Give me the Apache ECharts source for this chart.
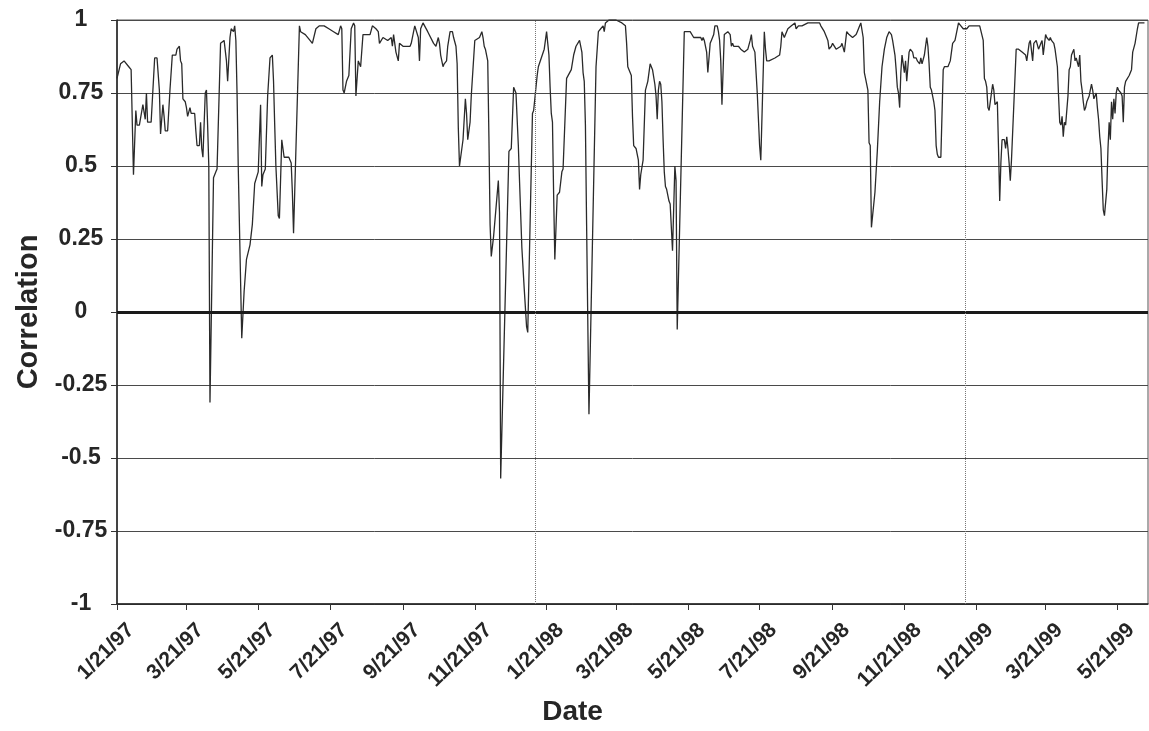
<!DOCTYPE html>
<html>
<head>
<meta charset="utf-8">
<script src="https://cdn.jsdelivr.net/npm/echarts@6/dist/echarts.min.js"></script>
<style>
  html, body { margin: 0; padding: 0; background: #ffffff; }
  #chart { width: 1149px; height: 731px; }
</style>
</head>
<body>
<div id="chart"></div>
<script>
// Rolling correlation, January 1997 to June 1999.
const startDate = '1/21/97';
const endDate = '6/16/99';
const tickLabels = ['1/21/97', '3/21/97', '5/21/97', '7/21/97', '9/21/97', '11/21/97',
  '1/21/98', '3/21/98', '5/21/98', '7/21/98', '9/21/98', '11/21/98',
  '1/21/99', '3/21/99', '5/21/99'];
const markerDates = ['1/11/98', '1/12/99'];
const yTicks = [-1, -0.75, -0.5, -0.25, 0, 0.25, 0.5, 0.75, 1];

// Days elapsed since the start date
const dayOffsets = [
  0, 3, 6, 10, 12, 14, 16, 17, 19, 22, 24, 25, 26, 29, 32, 34, 36, 37, 39, 40,
  41, 43, 45, 47, 50, 51, 53, 54, 55, 56, 58, 59, 60, 62, 63, 66, 67, 68, 70, 71,
  72, 73, 75, 76, 77, 78, 79, 82, 84, 85, 88, 91, 93, 94, 96, 97, 99, 100, 101, 102,
  103, 106, 108, 110, 113, 115, 117, 118, 120, 122, 123, 124, 126, 128, 130, 132, 133, 134, 135, 137,
  138, 140, 142, 146, 148, 149, 150, 151, 155, 156, 160, 164, 166, 169, 172, 176, 180, 184, 188, 190,
  191, 192, 193, 195, 197, 199, 201, 202, 203, 205, 207, 209, 211, 215, 217,
  220, 222, 223, 226, 230, 233, 234, 235, 237, 239, 240, 243, 249, 250, 252, 253, 256, 257, 258, 260,
  264, 269, 271, 273, 274, 275, 277, 278, 280, 281, 283, 285, 286, 288, 289, 290, 291, 292, 294, 296,
  297, 298, 300, 301, 304, 305, 308, 310, 311, 312, 313, 315, 316, 317, 318, 320, 321, 324, 325, 326,
  333, 335, 337, 339, 341, 342, 344, 346, 348, 349, 353, 354, 357, 358, 359, 363, 365, 366, 367, 368,
  369, 370, 371, 372, 374, 376, 378, 379, 382, 383, 386, 388, 390, 393, 394, 395, 396, 397, 398, 399,
  401, 407, 409, 411, 413, 414, 415, 418, 424, 429, 432, 433, 434, 437,
  438, 439, 441, 443, 444, 445, 447, 449, 451, 453, 454, 455, 457, 458, 459, 460, 461, 462, 463, 464,
  465, 466, 467, 469, 470, 472, 474, 475, 476, 482, 484, 487, 490, 493, 496, 497, 498, 499, 501, 502,
  504, 505, 507, 508, 510, 511, 512, 513, 514, 516, 517, 519, 521, 522, 523, 524, 528, 530, 533, 536,
  538, 539, 540, 542, 544, 546, 547, 550, 551, 552, 554, 559, 563, 564, 565, 567, 568, 570, 573, 576,
  577, 579, 582, 587, 593, 597, 598, 601, 603, 604, 605, 607, 608, 609, 611, 615, 616, 618, 620, 621,
  622, 625, 628, 629, 631, 632, 634, 635, 636, 637, 638, 639, 640, 641, 642, 644, 646, 648, 650, 652,
  654, 656,
  658, 659, 661, 662, 663, 664, 665, 666, 667, 668, 669, 670, 671, 673, 674, 676, 677, 679, 680, 682,
  683, 684, 686, 688, 689, 690, 691, 692, 694, 695, 696, 697, 698, 700, 702, 703, 706, 707, 708, 710,
  712, 713, 715, 716, 717, 719, 722, 724, 727, 730, 733, 734, 736, 737, 738, 739, 740, 741, 743, 744,
  745, 746, 748, 749, 750, 751, 752, 754, 755, 756, 757, 758, 759, 760, 761, 764, 765, 766, 769, 772,
  773, 775, 776, 778, 779, 781, 782, 783, 785, 786, 787, 789, 790, 792, 793, 794, 796, 797, 799, 800,
  801, 802, 803, 804, 805, 806, 808, 809, 810, 811, 813, 814, 815, 816, 817, 818, 819, 820, 821, 822,
  823, 824, 826, 828, 829, 830, 832, 833, 834, 835, 836, 837, 838, 839, 841, 842, 843, 844, 845, 846,
  847, 848, 849, 850, 851, 853, 854, 855, 856, 857, 858, 860, 862, 863, 865, 867, 868, 869, 871, 873
];

const correlation = [
  0.80, 0.85, 0.86, 0.84, 0.83, 0.47, 0.69, 0.64, 0.64, 0.71, 0.66, 0.75, 0.65, 0.65, 0.87, 0.87, 0.76, 0.61, 0.71, 0.67,
  0.62, 0.62, 0.76, 0.88, 0.88, 0.90, 0.91, 0.86, 0.85, 0.73, 0.72, 0.70, 0.67, 0.70, 0.68, 0.68, 0.62, 0.57, 0.57, 0.65,
  0.56, 0.53, 0.75, 0.76, 0.64, 0.50, -0.31, 0.46, 0.48, 0.49, 0.92, 0.93, 0.86, 0.79, 0.94, 0.97, 0.96, 0.98, 0.93, 0.75,
  0.50, -0.09, 0.07, 0.18, 0.23, 0.30, 0.44, 0.44, 0.48, 0.71, 0.43, 0.47, 0.49, 0.74, 0.87, 0.88, 0.79, 0.64, 0.50, 0.33,
  0.32, 0.59, 0.53, 0.53, 0.51, 0.41, 0.27, 0.41, 0.98, 0.96, 0.95, 0.93, 0.92, 0.97, 0.98, 0.98, 0.97, 0.96, 0.95, 0.98,
  0.97, 0.76, 0.75, 0.79, 0.81, 0.97, 0.99, 0.98, 0.74, 0.86, 0.84, 0.95, 0.95, 0.95, 0.98,
  0.97, 0.96, 0.92, 0.94, 0.93, 0.94, 0.91, 0.95, 0.89, 0.86, 0.92, 0.91, 0.91, 0.92, 0.96, 0.98, 0.94, 0.86, 0.97, 0.99,
  0.96, 0.92, 0.91, 0.94, 0.92, 0.88, 0.84, 0.85, 0.86, 0.91, 0.96, 0.96, 0.94, 0.91, 0.85, 0.63, 0.50, 0.50, 0.59, 0.73,
  0.68, 0.59, 0.65, 0.74, 0.93, 0.93, 0.94, 0.96, 0.94, 0.91, 0.90, 0.86, 0.60, 0.30, 0.19, 0.26, 0.26, 0.45, 0.34, -0.57,
  0.55, 0.56, 0.77, 0.75, 0.57, 0.45, 0.22, 0.08, -0.05, -0.07, 0.68, 0.69, 0.81, 0.84, 0.84, 0.90, 0.96, 0.92, 0.88, 0.77,
  0.68, 0.65, 0.40, 0.18, 0.40, 0.41, 0.48, 0.49, 0.80, 0.80, 0.83, 0.88, 0.91, 0.93, 0.93, 0.89, 0.82, 0.79, 0.64, 0.30,
  -0.35, 0.84, 0.96, 0.97, 0.98, 0.96, 0.99, 1.00, 1.00, 0.99, 0.98, 0.92, 0.84, 0.81,
  0.67, 0.57, 0.56, 0.52, 0.42, 0.47, 0.52, 0.76, 0.79, 0.85, 0.84, 0.83, 0.78, 0.74, 0.66, 0.76, 0.79, 0.78, 0.72, 0.59,
  0.48, 0.43, 0.42, 0.38, 0.37, 0.21, 0.50, 0.45, -0.06, 0.96, 0.96, 0.96, 0.94, 0.94, 0.94, 0.93, 0.94, 0.93, 0.89, 0.82,
  0.92, 0.93, 0.95, 0.98, 0.98, 0.96, 0.93, 0.86, 0.71, 0.95, 0.95, 0.96, 0.95, 0.91, 0.92, 0.91, 0.91, 0.90, 0.89, 0.90,
  0.93, 0.95, 0.91, 0.89, 0.75, 0.57, 0.52, 0.96, 0.90, 0.86, 0.86, 0.87, 0.88, 0.91, 0.96, 0.94, 0.95, 0.97, 0.98, 0.99,
  0.97, 0.98, 0.98, 0.99, 0.99, 0.99, 0.98, 0.96, 0.94, 0.93, 0.90, 0.91, 0.92, 0.92, 0.90, 0.91, 0.92, 0.89, 0.96, 0.96,
  0.95, 0.94, 0.95, 0.96, 0.98, 0.99, 0.94, 0.82, 0.80, 0.80, 0.76, 0.58, 0.57, 0.29, 0.29, 0.41, 0.55, 0.72, 0.84, 0.90,
  0.94, 0.96,
  0.95, 0.93, 0.88, 0.83, 0.77, 0.75, 0.70, 0.82, 0.88, 0.85, 0.82, 0.86, 0.79, 0.89, 0.90, 0.89, 0.87, 0.87, 0.86, 0.85,
  0.87, 0.85, 0.88, 0.94, 0.91, 0.85, 0.77, 0.76, 0.72, 0.69, 0.57, 0.54, 0.53, 0.53, 0.83, 0.84, 0.84, 0.84, 0.86, 0.92,
  0.93, 0.95, 0.99, 0.99, 0.98, 0.97, 0.97, 0.98, 0.98, 0.98, 0.98, 0.98, 0.93, 0.80, 0.79, 0.77, 0.70, 0.69, 0.75, 0.78,
  0.76, 0.71, 0.72, 0.56, 0.38, 0.51, 0.59, 0.59, 0.56, 0.60, 0.56, 0.51, 0.45, 0.52, 0.52, 0.90, 0.90, 0.90, 0.89, 0.88,
  0.86, 0.92, 0.93, 0.86, 0.92, 0.93, 0.93, 0.90, 0.92, 0.93, 0.88, 0.95, 0.94, 0.93, 0.94, 0.93, 0.92, 0.90, 0.84, 0.74,
  0.65, 0.64, 0.67, 0.60, 0.65, 0.64, 0.74, 0.83, 0.84, 0.88, 0.90, 0.86, 0.87, 0.87, 0.84, 0.88, 0.79, 0.76, 0.72, 0.69,
  0.70, 0.72, 0.74, 0.78, 0.76, 0.73, 0.75, 0.70, 0.66, 0.60, 0.56, 0.45, 0.35, 0.33, 0.42, 0.56, 0.65, 0.59, 0.72, 0.66,
  0.73, 0.68, 0.75, 0.77, 0.76, 0.75, 0.74, 0.65, 0.77, 0.79, 0.79, 0.81, 0.83, 0.89, 0.92, 0.97, 0.99, 0.99, 0.99, 0.99
];

function parseDate(s) {
  const [m, d, y] = s.split('/').map(Number);
  return Date.UTC(1900 + y, m - 1, d);
}
function dayIndex(s) {
  return Math.round((parseDate(s) - parseDate(startDate)) / 86400000);
}

const tickDays = tickLabels.map(dayIndex);
const labelByDay = {};
tickLabels.forEach((t, i) => { labelByDay[tickDays[i]] = t; });
const seriesData = dayOffsets.map((d, i) => [d, correlation[i]]);

const FONT = '"Liberation Sans", Arial, sans-serif';
const chart = echarts.init(document.getElementById('chart'), null, { renderer: 'canvas' });

chart.setOption({
  animation: false,
  backgroundColor: '#ffffff',
  grid: {
    left: 117, right: 1, top: 20, bottom: 127,
    outerBoundsMode: 'none',
    show: true, borderColor: '#555', borderWidth: 1, backgroundColor: 'transparent'
  },
  xAxis: {
    type: 'value',
    min: 0,
    max: dayIndex(endDate),
    name: 'Date',
    nameLocation: 'middle',
    nameGap: 93,
    nameTextStyle: {
      fontFamily: FONT, fontWeight: 'bold', fontSize: 28, color: '#262626',
      padding: [0, 120, 0, 0]
    },
    axisLine: { show: true, onZero: false, lineStyle: { color: '#222', width: 1.5 } },
    axisTick: { show: true, customValues: tickDays, length: 6, lineStyle: { color: '#333', width: 1 } },
    axisLabel: {
      customValues: tickDays,
      rotate: 45,
      align: 'right',
      verticalAlign: 'top',
      padding: [9, 0, 0, 0],
      margin: 9,
      fontFamily: FONT, fontWeight: 'bold', fontSize: 21, color: '#262626',
      formatter: v => labelByDay[v] || ''
    },
    splitLine: { show: false }
  },
  yAxis: {
    type: 'value',
    min: -1, max: 1, interval: 0.25,
    name: 'Correlation',
    nameLocation: 'middle',
    nameGap: 72,
    nameTextStyle: { fontFamily: FONT, fontWeight: 'bold', fontSize: 29, color: '#262626' },
    axisLine: { show: true, lineStyle: { color: '#222', width: 1.5 } },
    axisTick: { show: true, length: 6, lineStyle: { color: '#333' } },
    axisLabel: {
      align: 'center',
      margin: 36,
      fontFamily: FONT, fontWeight: 'bold', fontSize: 23, color: '#262626',
      formatter: v => String(yTicks.find(t => Math.abs(t - v) < 1e-9))
    },
    splitLine: { show: true, lineStyle: { color: '#4a4a4a', width: 1 } }
  },
  series: [{
    type: 'line',
    data: seriesData,
    showSymbol: false,
    symbol: 'none',
    lineStyle: { color: '#2a2a2a', width: 1.3 },
    markLine: {
      silent: true,
      symbol: ['none', 'none'],
      label: { show: false },
      data: [
        { yAxis: 0, lineStyle: { color: '#1a1a1a', width: 3, type: 'solid' } },
        ...markerDates.map(s => ({ xAxis: dayIndex(s), lineStyle: { color: '#777', width: 1, type: 'dotted' } }))
      ]
    }
  }]
});
</script>
</body>
</html>
